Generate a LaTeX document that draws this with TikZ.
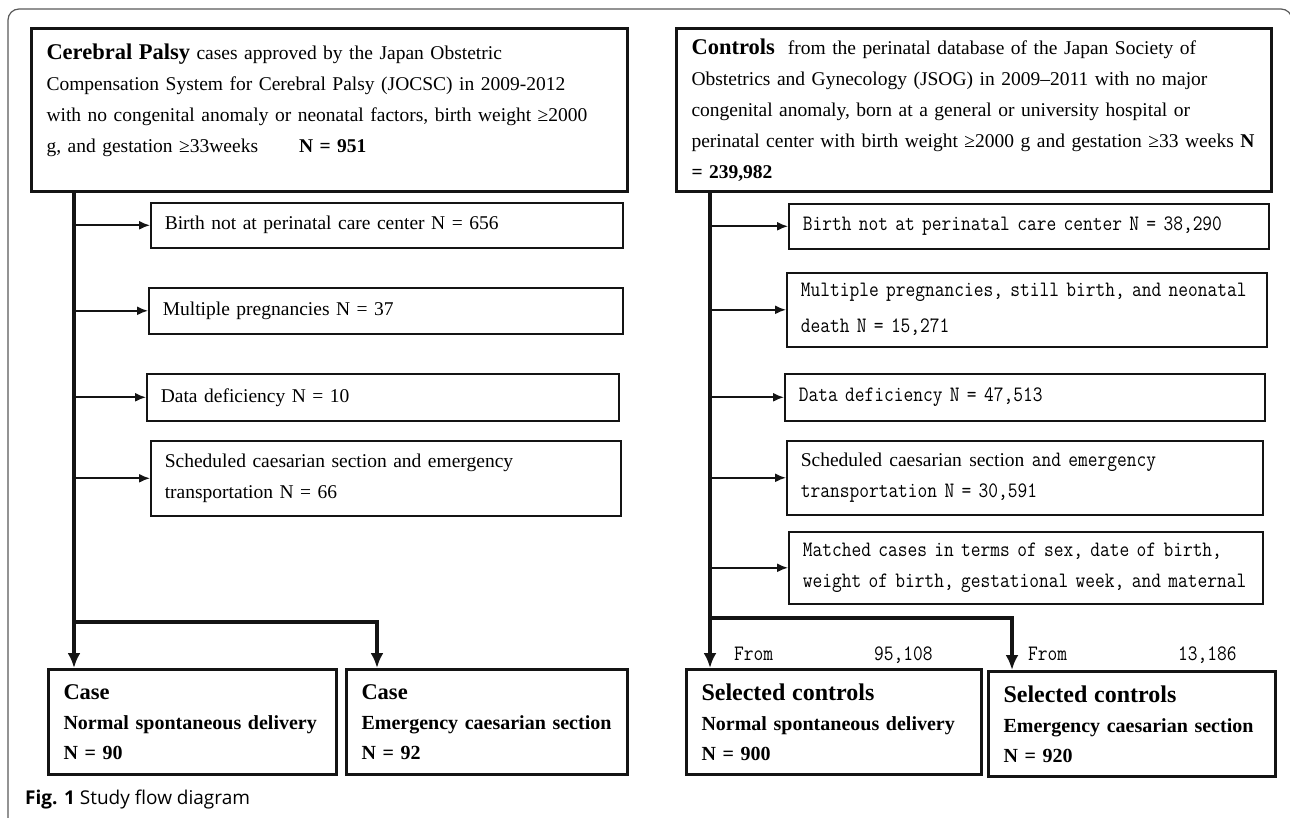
\documentclass[tikz,border=0pt]{standalone}
\usepackage{fontspec}
\setmainfont{Liberation Serif}
\newfontfamily\monof[FakeStretch=0.86]{Latin Modern Mono}
\newfontfamily\capf{Open Sans}
\usetikzlibrary{arrows.meta}
\begin{document}
\begin{tikzpicture}[x=1pt,y=-1pt,
  bigbox/.style 2 args={draw=black!92, line width=3pt, anchor=north west, inner ysep=0pt, inner xsep=15pt,
     minimum width=#1pt, minimum height=#2pt, text width=#1pt-30pt, align=left},
  exbox/.style 2 args={draw=black!92, line width=1.6pt, anchor=north west, inner ysep=0pt, inner xsep=14pt,
     minimum width=#1pt, minimum height=#2pt, text width=#1pt-28pt, align=left},
  rmtext/.style={font=\fontsize{19.5}{31}\selectfont},
  mntext/.style={font=\monof\fontsize{22}{31}\selectfont},
  botext/.style={font=\bfseries\fontsize{20}{30}\selectfont},
  trunk/.style={draw=black!92, line width=3.3pt},
  branch/.style={draw=black!92, line width=1.8pt, -{Latex[length=11pt,width=9pt]}},
  downtip/.style={-{Latex[length=15pt,width=13pt]}},
]
\useasboundingbox (0,0) rectangle (1290,818);
% outer frame
\draw[draw=black!65, line width=1.2pt, rounded corners=11pt] (8,840) -- (8,9) -- (1292,9) -- (1292,840);

% ---------- left column ----------
\node[bigbox={596}{163}, rmtext] (topL) at (30,27)
 {{\bfseries\fontsize{22.5}{31}\selectfont Cerebral Palsy} cases approved by the Japan Obstetric\\
  Compensation System for Cerebral Palsy (JOCSC) in 2009-2012\\
  with no congenital anomaly or neonatal factors, birth weight ≥2000\\
  g, and gestation ≥33weeks\hspace{2.1em}\textbf{N = 951}\\[-8pt]\mbox{}};

\node[exbox={472}{45}, rmtext] (ex1) at (150,202) {Birth not at perinatal care center N = 656};
\node[exbox={474}{46}, rmtext] (ex2) at (148,287) {Multiple pregnancies N = 37};
\node[exbox={472}{47}, rmtext] (ex3) at (146,373) {Data deficiency N = 10};
\node[exbox={470}{75}, rmtext] (ex4) at (150,440) {Scheduled caesarian section and emergency\\ transportation N = 66};

\node[bigbox={288}{105}, botext] (cN) at (47,668)
 {{\fontsize{22.5}{30}\selectfont Case}\\ Normal spontaneous delivery\\ N = 90};
\node[bigbox={281}{105}, botext] (cE) at (345,668)
 {{\fontsize{22.5}{30}\selectfont Case}\\ Emergency caesarian section\\ N = 92};

\coordinate (jL) at (74,622);
\coordinate (jLr) at (377,622);
\draw[trunk, downtip] (topL.south -| jL) -- (cN.north -| jL);
\draw[trunk, downtip] (jL) -- (jLr) -- (cE.north -| jLr);
\foreach \b in {ex1,ex2,ex3,ex4}{
  \draw[branch] (\b.west -| jL) -- (\b.west);
}

% ---------- right column ----------
\node[bigbox={595}{163}, rmtext] (topR) at (675,27)
 {\makebox[565pt][s]{{\bfseries\fontsize{22.5}{31}\selectfont Controls}\ \ from the perinatal database of the Japan Society of}\\
  \makebox[565pt][s]{Obstetrics and Gynecology (JSOG) in 2009–2011 with no major}\\
  \makebox[565pt][s]{congenital anomaly, born at a general or university hospital or}\\
  \makebox[565pt][s]{perinatal center with birth weight ≥2000 g and gestation ≥33 weeks \textbf{N}}\\
  \textbf{= 239,982}};

\node[exbox={480}{45}, mntext] (rx1) at (788,203) {\mbox{Birth not at perinatal care center N = 38,290}};
\node[exbox={480}{74}, mntext] (rx2) at (786,272) {\mbox{Multiple pregnancies, still birth, and neonatal}\\[5pt] \mbox{death N = 15,271}};
\node[exbox={480}{47}, mntext] (rx3) at (784,373) {\mbox{Data deficiency N = 47,513}};
\node[exbox={476}{74}, mntext] (rx4) at (786,440) {\mbox{{\rmfamily\fontsize{19.5}{31}\selectfont Scheduled caesarian section} and emergency}\\ \mbox{transportation N = 30,591}};
\node[exbox={474}{72}, mntext] (rx5) at (788,531) {\mbox{Matched cases in terms of sex, date of birth,}\\ \mbox{weight of birth, gestational week, and maternal}};

\node[bigbox={295}{105}, botext] (sN) at (685,668)
 {{\fontsize{24}{30}\selectfont Selected controls}\\ Normal spontaneous delivery\\ N = 900};
\node[bigbox={287}{105}, botext] (sE) at (987,670)
 {{\fontsize{24}{30}\selectfont Selected controls}\\ Emergency caesarian section\\ N = 920};

\node[anchor=west, inner sep=0pt, mntext] (fN) at (734,655) {\makebox[140pt][l]{From}95,108};
\node[anchor=west, inner sep=0pt, mntext] (fE) at (1028,655) {\makebox[150pt][l]{From}13,186};

\coordinate (jR) at (710,618);
\coordinate (jRr) at (1012,618);
\draw[trunk, downtip] (topR.south -| jR) -- (sN.north -| jR);
\draw[trunk, downtip] (jR) -- (jRr) -- (sE.north -| jRr);
\foreach \b in {rx1,rx2,rx3,rx4,rx5}{
  \draw[branch] (\b.west -| jR) -- (\b.west);
}

% caption
\node[anchor=west, inner sep=0pt, font=\capf\fontsize{19}{22}\selectfont] (cap) at (25,800)
 {\textbf{Fig. 1} Study flow diagram};
\end{tikzpicture}
\end{document}
